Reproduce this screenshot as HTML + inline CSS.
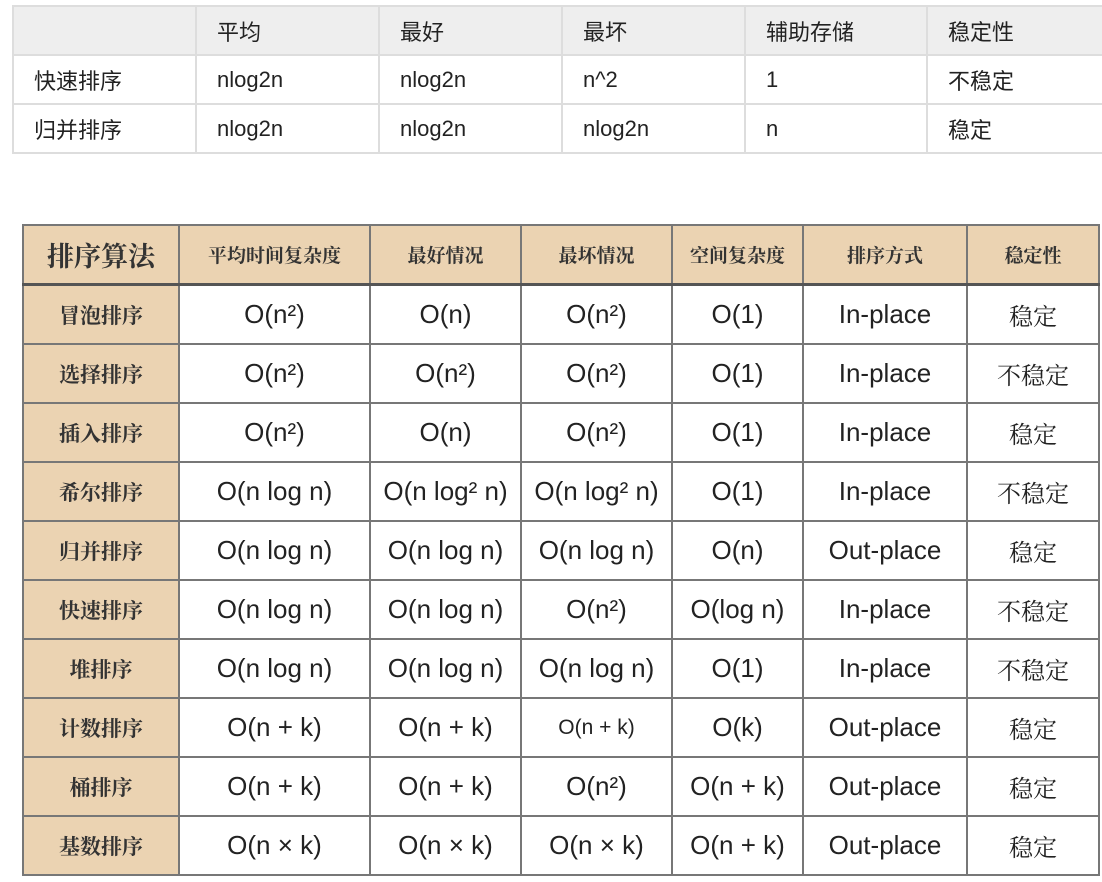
<!DOCTYPE html>
<html><head><meta charset="utf-8"><style>
body{margin:0;width:1102px;height:882px;background:#fff;position:relative;overflow:hidden;font-family:"Liberation Sans","Noto Sans CJK SC",sans-serif}
table{border-collapse:collapse;position:absolute;table-layout:fixed}
#t1{left:12px;top:5px;width:1092px;color:#222;font-size:22px}
#t1 td{border:2px solid #ddd;height:47px;padding:0 0 0 20px}
#t1 tr:first-child td{background:#eee}
#t2{left:22px;top:224px;width:1076px;font-size:26px;color:#222}
#t2 td{border:2px solid #777;height:57px;text-align:center;padding:0}
#t2 tr:first-child td{background:#ebd3b2;font-size:19px;font-weight:bold;color:#333;font-family:"Noto Serif CJK SC",serif}
#t2 td:first-child{background:#ebd3b2;font-size:21px;font-weight:bold;color:#333;font-family:"Noto Serif CJK SC",serif}
#t2 tr:first-child td:first-child{font-size:27px}
#t2 tr:first-child td{border-bottom:3px solid #555}
#t2 td:last-child{font-family:"Noto Serif CJK SC",serif;font-size:24px}
#t2 tr:first-child td:last-child{font-size:19px}
</style></head><body>
<table id="t1">
<colgroup><col style="width:183px"><col style="width:183px"><col style="width:183px"><col style="width:183px"><col style="width:182px"><col style="width:178px"></colgroup>
<tr><td></td><td>平均</td><td>最好</td><td>最坏</td><td>辅助存储</td><td>稳定性</td></tr>
<tr><td>快速排序</td><td>nlog2n</td><td>nlog2n</td><td>n^2</td><td>1</td><td>不稳定</td></tr>
<tr><td>归并排序</td><td>nlog2n</td><td>nlog2n</td><td>nlog2n</td><td>n</td><td>稳定</td></tr>
</table>
<table id="t2">
<colgroup><col style="width:156px"><col style="width:191px"><col style="width:151px"><col style="width:151px"><col style="width:131px"><col style="width:164px"><col style="width:132px"></colgroup>
<tr><td>排序算法</td><td>平均时间复杂度</td><td>最好情况</td><td>最坏情况</td><td>空间复杂度</td><td>排序方式</td><td>稳定性</td></tr>
<tr><td>冒泡排序</td><td>O(n²)</td><td>O(n)</td><td>O(n²)</td><td>O(1)</td><td>In-place</td><td>稳定</td></tr>
<tr><td>选择排序</td><td>O(n²)</td><td>O(n²)</td><td>O(n²)</td><td>O(1)</td><td>In-place</td><td>不稳定</td></tr>
<tr><td>插入排序</td><td>O(n²)</td><td>O(n)</td><td>O(n²)</td><td>O(1)</td><td>In-place</td><td>稳定</td></tr>
<tr><td>希尔排序</td><td>O(n log n)</td><td>O(n log² n)</td><td>O(n log² n)</td><td>O(1)</td><td>In-place</td><td>不稳定</td></tr>
<tr><td>归并排序</td><td>O(n log n)</td><td>O(n log n)</td><td>O(n log n)</td><td>O(n)</td><td>Out-place</td><td>稳定</td></tr>
<tr><td>快速排序</td><td>O(n log n)</td><td>O(n log n)</td><td>O(n²)</td><td>O(log n)</td><td>In-place</td><td>不稳定</td></tr>
<tr><td>堆排序</td><td>O(n log n)</td><td>O(n log n)</td><td>O(n log n)</td><td>O(1)</td><td>In-place</td><td>不稳定</td></tr>
<tr><td>计数排序</td><td>O(n + k)</td><td>O(n + k)</td><td style="font-size:21px">O(n + k)</td><td>O(k)</td><td>Out-place</td><td>稳定</td></tr>
<tr><td>桶排序</td><td>O(n + k)</td><td>O(n + k)</td><td>O(n²)</td><td>O(n + k)</td><td>Out-place</td><td>稳定</td></tr>
<tr><td>基数排序</td><td>O(n × k)</td><td>O(n × k)</td><td>O(n × k)</td><td>O(n + k)</td><td>Out-place</td><td>稳定</td></tr>
</table>
</body></html>
